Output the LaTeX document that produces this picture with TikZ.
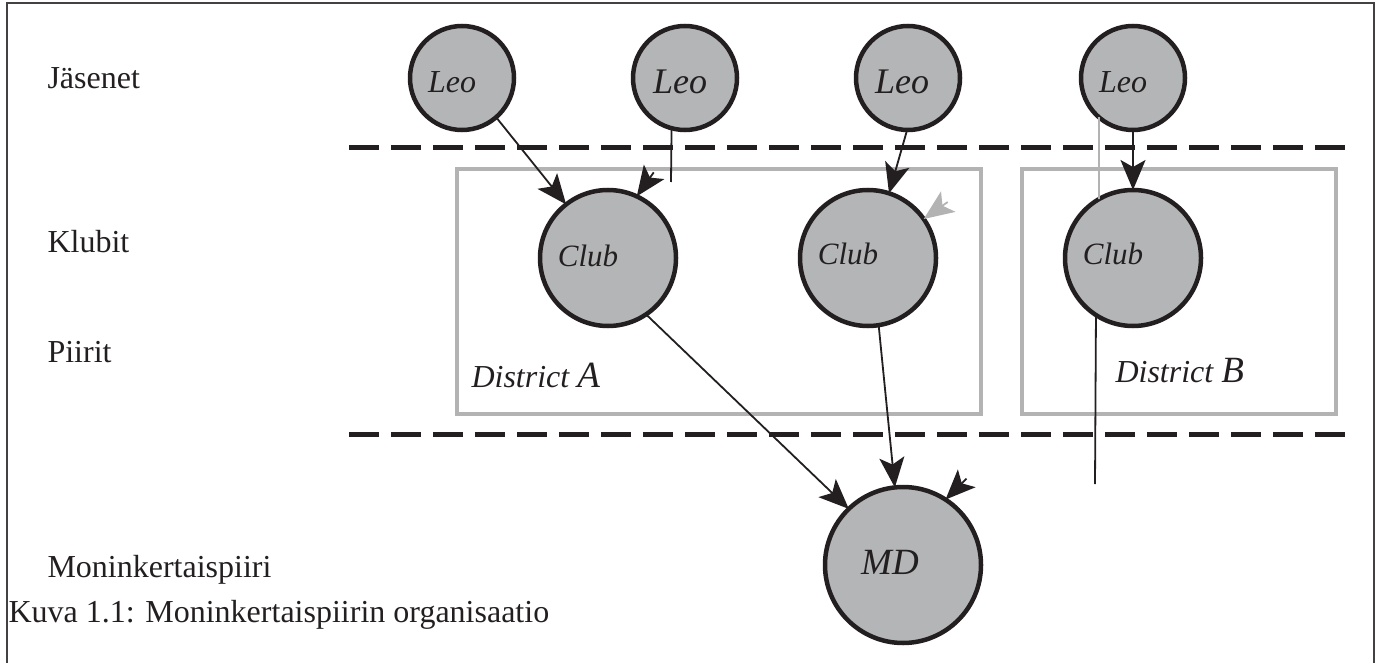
\documentclass[tikz,border=0pt]{standalone}
\usepackage{fontspec}
\setmainfont{Liberation Serif}
\usepackage{tikz}
\usetikzlibrary{arrows.meta}
\definecolor{ink}{HTML}{231F20}
\definecolor{disc}{HTML}{B4B5B7}
\definecolor{boxgray}{HTML}{B3B3B3}

\begin{document}
\begin{tikzpicture}[x=1pt, y=-1pt, ink,
    disc/.style={circle, draw=ink, line width=4.5pt, fill=disc, inner sep=0pt, outer sep=0pt},
    leo/.style={disc, minimum size=104pt},
    club/.style={disc, minimum size=136pt},
    conn/.style={line width=1.8pt, -{Stealth[length=30pt, width=25pt, inset=7pt]}},
    divider/.style={line width=5pt, dash pattern=on 30pt off 12pt},
    district/.style={draw=boxgray, line width=4pt},
    big/.style={font=\fontsize{32}{36}\selectfont}]
    \useasboundingbox (0,0) rectangle (1381,663);
    \draw[line width=2.5pt, ink!85] (7,663) -- (7,3) -- (1374,3) -- (1374,663);

    % tasot
    \node[big, anchor=base west] (lj) at (44,89) {Jäsenet};
    \node[big, anchor=base west] (lk) at (44,252) {Klubit};
    \node[big, anchor=base west] (lp) at (44,362) {Piirit};
    \node[big, anchor=base west] (lm) at (44,577) {Moninkertaispiiri};
    \node[big, anchor=base west] (cap) at (5,622) {Kuva 1.1: Moninkertaispiirin organisaatio};

    \draw[divider] (349,148) -- (1345,148);
    \draw[divider] (349,434) -- (1345,434);

    \draw[district] (457,169) rectangle (981,414);
    \draw[district] (1022,169) rectangle (1336,414);
    \node[big, anchor=base west] (da) at (468,387) {\itshape District \fontsize{37}{40}\selectfont A};
    \node[big, anchor=base west] (db) at (1112,382) {\itshape District \fontsize{37}{40}\selectfont B};

    \node[leo, label={[xshift=-10pt, yshift=-4pt]center:\fontsize{32}{36}\selectfont\itshape Leo}] (leo1) at (462,78) {};
    \node[leo, label={[xshift=-5pt, yshift=-4pt]center:\fontsize{36}{40}\selectfont\itshape Leo}] (leo2) at (685,78) {};
    \node[leo, label={[xshift=-6pt, yshift=-4pt]center:\fontsize{36}{40}\selectfont\itshape Leo}] (leo3) at (908,78) {};
    \node[leo, label={[xshift=-10pt, yshift=-4pt]center:\fontsize{32}{36}\selectfont\itshape Leo}] (leo4) at (1133,78) {};

    \node[club, label={[xshift=-20pt, yshift=2pt]center:\fontsize{31}{36}\selectfont\itshape Club}] (club1) at (608,258) {};
    \node[club, label={[xshift=-20pt, yshift=4pt]center:\fontsize{31}{36}\selectfont\itshape Club}] (club2) at (868,258) {};
    \node[club, label={[xshift=-20pt, yshift=4pt]center:\fontsize{31}{36}\selectfont\itshape Club}] (club3) at (1133,258) {};

    \node[disc, minimum size=156pt, label={[xshift=-13pt, yshift=3pt]center:\fontsize{37}{40}\selectfont\itshape MD}] (md) at (903,565) {};

    \coordinate (leo2end) at (671,182);
    \coordinate (club3end) at (1095,484);

    \draw[conn] (leo1.-49) -- (club1.128);
    \draw[line width=1.8pt] (leo2.-105) -- (leo2end);
    \draw[conn] (leo3.-91) -- (club2.72);
    \draw[conn] (leo4.south) -- (club3.north);
    \draw[line width=1.8pt, boxgray] (leo4.-131) -- (club3.120);

    \draw[conn] ([shift={(17,-24)}]club1.65) -- (club1.65);
    \draw[conn, boxgray] ([shift={(24,-17)}]club2.35) -- (club2.35);
    \draw[conn] ([shift={(21,-21)}]md.57) -- (md.57);

    \draw[conn] (club1.-56) -- (md.134);
    \draw[conn] (club2.-81) -- (md.96);
    \draw[line width=1.8pt] (club3.-123) -- (club3end);
\end{tikzpicture}
\end{document}
